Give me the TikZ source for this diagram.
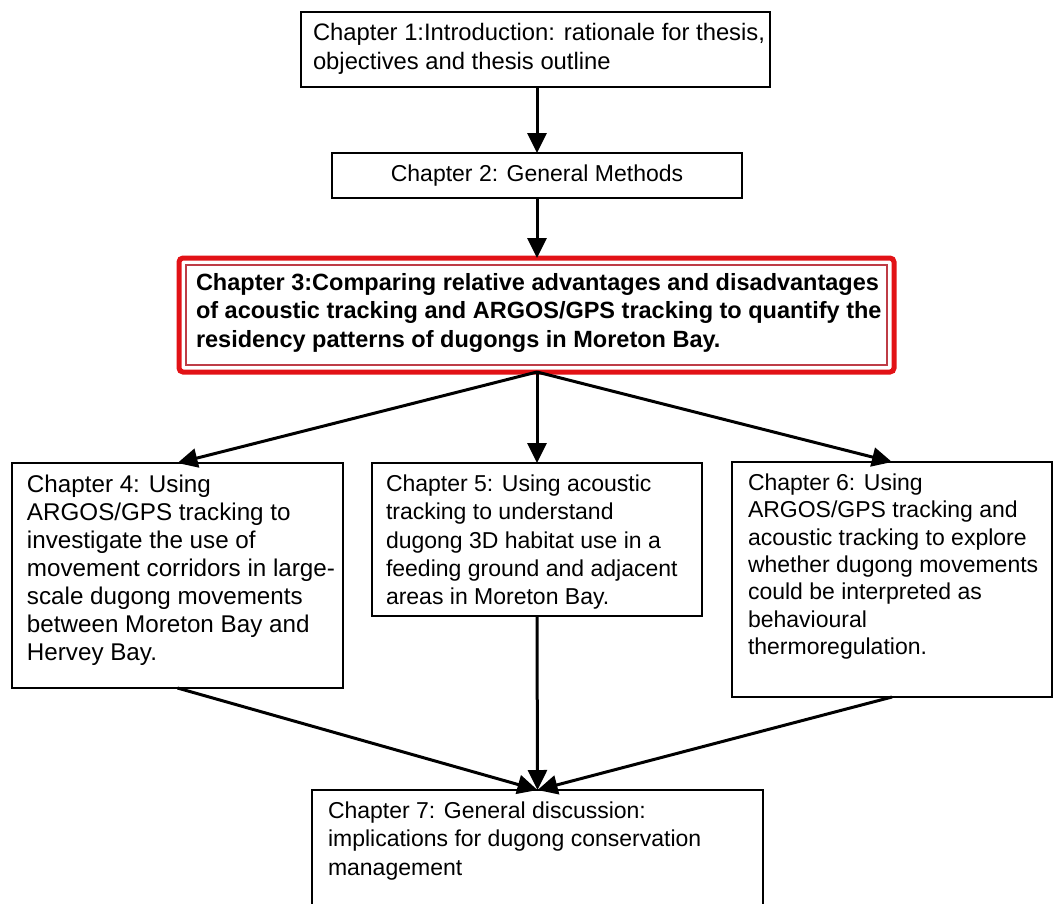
\documentclass[tikz,border=0pt]{standalone}
\usepackage{fontspec}
\setmainfont{Liberation Sans}
\usetikzlibrary{arrows.meta}
\definecolor{chred}{RGB}{226,18,22}
\definecolor{chredin}{RGB}{190,60,70}
\begin{document}
\begin{tikzpicture}[x=1pt,y=-1pt,
  chbox/.style={draw=black, line width=2.2pt, anchor=north west,
    inner xsep=14pt, inner ysep=12pt, outer sep=0pt,
    font=\fontsize{23}{28}\selectfont},
  mainbox/.style={draw=chred, line width=5pt, rounded corners=4pt,
    anchor=north west, inner xsep=17pt, inner ysep=15pt, outer sep=0pt,
    font=\fontsize{23.5}{28.5}\selectfont\bfseries},
  link/.style={line width=3pt, -{Triangle[length=20pt,width=19pt]}}
]
\useasboundingbox (0,0) rectangle (1056,903);

% chapter boxes: \parbox[c][height][t]{width} keeps the text at the top
\node[chbox, inner xsep=12pt, inner ysep=11pt, font=\fontsize{23.8}{29}\selectfont] (c1) at (301,12)
  {\parbox[c][53pt][t]{445pt}{\raggedright
   \mbox{Chapter 1:Introduction: rationale for thesis,}\\
   \mbox{objectives and thesis outline}}};

\node[chbox, inner sep=0pt, minimum width=410pt, minimum height=45pt] (c2) at (332,153)
  {Chapter 2: General Methods};

\node[mainbox] (c3) at (179,258)
  {\parbox[c][84pt][t]{681pt}{\raggedright
   \mbox{Chapter 3:Comparing relative advantages and disadvantages}\\
   \mbox{of acoustic tracking and ARGOS/GPS tracking to quantify the}\\
   \mbox{residency patterns of dugongs in Moreton Bay.}}};
% thin inner frame of the chapter 3 box
\draw[chredin, line width=1.2pt]
  ([shift={(7,7)}]c3.north west) rectangle ([shift={(-7,-7)}]c3.south east);

\node[chbox, inner xsep=15pt, font=\fontsize{24.2}{28}\selectfont] (c4) at (12,463)
  {\parbox[c][201pt][t]{301pt}{\raggedright
   \mbox{Chapter 4: Using}\\
   \mbox{ARGOS/GPS tracking to}\\
   \mbox{investigate the use of}\\
   \mbox{movement corridors in large-}\\
   \mbox{scale dugong movements}\\
   \mbox{between Moreton Bay and}\\
   \mbox{Hervey Bay.}}};

\node[chbox, font=\fontsize{23}{28.3}\selectfont] (c5) at (372,463)
  {\parbox[c][129pt][t]{302pt}{\raggedright
   \mbox{Chapter 5: Using acoustic}\\
   \mbox{tracking to understand}\\
   \mbox{dugong 3D habitat use in a}\\
   \mbox{feeding ground and adjacent}\\
   \mbox{areas in Moreton Bay.}}};

\node[chbox, inner xsep=16pt, font=\fontsize{23}{27.3}\selectfont] (c6) at (732,462)
  {\parbox[c][211pt][t]{288pt}{\raggedright
   \mbox{Chapter 6: Using}\\
   \mbox{ARGOS/GPS tracking and}\\
   \mbox{acoustic tracking to explore}\\
   \mbox{whether dugong movements}\\
   \mbox{could be interpreted as}\\
   \mbox{behavioural}\\
   \mbox{thermoregulation.}}};

\node[chbox, inner xsep=16pt, font=\fontsize{23}{28.3}\selectfont] (c7) at (312,790)
  {\parbox[c][106pt][t]{419pt}{\raggedright
   \mbox{Chapter 7: General discussion:}\\
   \mbox{implications for dugong conservation}\\
   \mbox{management}}};

% connectors
\draw[link] (c2.north |- c1.south) -- (c2.north);
\draw[link] (c2.south) -- (c2.south |- c3.north);
\draw[link] (c5.north |- c3.south) -- (c4.north);
\draw[link] (c5.north |- c3.south) -- (c5.north);
\draw[link] (c5.north |- c3.south) -- (c6.north);
\draw[link] (c4.south) -- (c7.north);
\draw[link] (c5.south) -- (c7.north);
\draw[link] (c6.south) -- (c7.north);
\end{tikzpicture}
\end{document}
